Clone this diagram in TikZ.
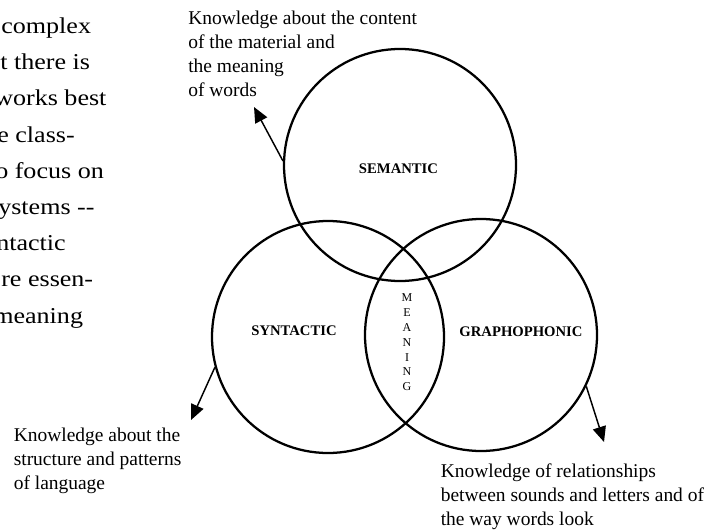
\documentclass[tikz,border=0pt]{standalone}
\usepackage{fontspec}
\setmainfont{Liberation Serif}
\newfontfamily\widefont[FakeStretch=1.15]{Liberation Serif}
\usetikzlibrary{arrows.meta}

\begin{document}
\begin{tikzpicture}[x=0.75pt,y=-0.75pt,>={Triangle[length=11.5pt,width=10pt]},
    ring/.style={circle,draw,line width=1.7pt,minimum size=174pt,inner sep=0pt},
    tag/.style={inner sep=0pt,font=\bfseries\fontsize{11}{13}\selectfont},
    note/.style={anchor=base west,align=left,inner sep=0pt,font=\fontsize{14.6}{18}\selectfont},
    body/.style={anchor=base west,inner sep=0pt,font=\widefont\fontsize{17}{20}\selectfont},
    pointer/.style={->,line width=1.1pt}]
  \useasboundingbox (0,0) rectangle (705,531);
  \clip (0,0) rectangle (705,531);
  % paragraph cut off at the left edge
  \foreach \px/\py/\txt [count=\i] in {1/33.5/complex,0/69.7/t there is,-6/105.9/works best,
      -3/142.1/e class-,-5/178.3/o focus on,-2/214.5/ystems -{}-,-4/250.7/ntactic,
      1/286.9/re essen-,-7/323.1/meaning}
    \node[body] (para\i) at (\px,\py) {\txt};
  % the three systems
  \node[ring] (sem) at (400,165) {};
  \node[ring] (syn) at (328,337) {};
  \node[ring] (gra) at (481,335) {};
  \node[tag] (semlbl) at (398.5,169) {SEMANTIC};
  \node[tag] (synlbl) at (294,331) {SYNTACTIC};
  \node[tag] (gralbl) at (521,332) {GRAPHOPHONIC};
  \node[align=center,inner sep=0pt,font=\fontsize{9}{11.1}\selectfont] (mean) at (407,342.5) {M\\E\\A\\N\\I\\N\\G};
  % notes (base = last line)
  \node[note] (semnote) at (188,97) {Knowledge about the content\\of the material and\\the meaning\\of words};
  \node[note] (synnote) at (13.5,489) {Knowledge about the\\structure and patterns\\of language};
  \node[note] (granote) at (440.5,525) {Knowledge of relationships\\between sounds and letters and of\\the way words look};
  \coordinate (semtip) at (254,107);
  \coordinate (syntip) at (191,420);
  \coordinate (gratip) at (604,442);
  \draw[pointer] (sem.178) -- (semtip);
  \draw[pointer] (syn.195) -- (syntip);
  \draw[pointer] (gra.-26) -- (gratip);
\end{tikzpicture}
\end{document}
